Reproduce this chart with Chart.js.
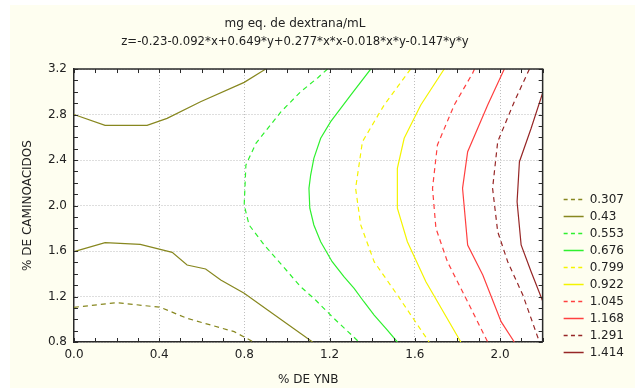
<!DOCTYPE html>
<html>
<head>
<meta charset="utf-8">
<script src="https://cdn.jsdelivr.net/npm/chart.js@4/dist/chart.umd.min.js"></script>
<style>
  html, body { margin: 0; padding: 0; background: #ffffff; }
  #bg { position: absolute; left: 10px; top: 5px; width: 625px; height: 383px; background: #fefef0; }
  #chart { position: absolute; left: 0; top: 0; }
</style>
</head>
<body>
<div id="bg"></div>
<canvas id="chart" width="635" height="388"></canvas>
<script>
// contour levels (legend labels)
const levels = ['0.307', '0.43', '0.553', '0.676', '0.799', '0.922', '1.045', '1.168', '1.291', '1.414'];

// contour lines, [% de YNB, % de caminoacidos]
const line0307 = [[0, 1.105], [0.2, 1.146], [0.406, 1.105], [0.531, 1.008], [0.752, 0.891], [0.846, 0.797]];
const line043a = [[0, 2.8], [0.146, 2.705], [0.343, 2.705], [0.437, 2.766], [0.594, 2.913], [0.799, 3.083], [0.9, 3.2]];
const line043b = [[0, 1.594], [0.146, 1.673], [0.311, 1.659], [0.461, 1.588], [0.531, 1.477], [0.618, 1.442],
                  [0.689, 1.345], [0.799, 1.228], [0.909, 1.081], [1.12, 0.8]];
const line0553 = [[1.19, 3.2], [1.145, 3.124], [1.064, 3.0], [0.972, 2.825], [0.854, 2.547], [0.807, 2.356],
                  [0.799, 2.004], [0.822, 1.829], [0.893, 1.653], [1.003, 1.418], [1.064, 1.286], [1.134, 1.169],
                  [1.22, 1.008], [1.338, 0.8]];
const line0676 = [[1.393, 3.2], [1.299, 2.971], [1.205, 2.737], [1.158, 2.591], [1.126, 2.415], [1.111, 2.268],
                  [1.103, 2.151], [1.107, 1.976], [1.126, 1.829], [1.158, 1.682], [1.212, 1.506], [1.267, 1.374],
                  [1.315, 1.272], [1.361, 1.154], [1.409, 1.037], [1.471, 0.905], [1.518, 0.8]];
const line0799 = [[1.58, 3.2], [1.565, 3.162], [1.456, 2.884], [1.354, 2.561], [1.322, 2.151], [1.346, 1.829],
                  [1.409, 1.506], [1.518, 1.213], [1.667, 0.8]];
const line0922 = [[1.738, 3.2], [1.628, 2.884], [1.55, 2.591], [1.518, 2.327], [1.518, 1.976], [1.565, 1.682],
                  [1.652, 1.33], [1.816, 0.8]];
const line1045 = [[1.88, 3.2], [1.871, 3.162], [1.785, 2.884], [1.706, 2.532], [1.683, 2.151], [1.699, 1.8],
                  [1.753, 1.506], [1.832, 1.213], [1.942, 0.8]];
const line1168 = [[2.02, 3.2], [1.942, 2.884], [1.848, 2.473], [1.824, 2.151], [1.848, 1.653], [1.919, 1.389],
                  [2.005, 0.979], [2.067, 0.8]];
const line1291 = [[2.138, 3.2], [2.067, 2.913], [1.989, 2.561], [1.965, 2.151], [1.989, 1.77], [2.036, 1.506],
                  [2.107, 1.213], [2.185, 0.8]];
const line1414 = [[2.2, 2.99], [2.146, 2.679], [2.091, 2.385], [2.08, 2.033], [2.099, 1.653], [2.146, 1.418], [2.2, 1.16]];

const xMin = 0, xMax = 2.2, yMin = 0.8, yMax = 3.2;

const OLIVE = '#87871f', GREEN = '#2ef02e', YELLOW = '#f4f400', RED = '#ff4040', DARKRED = '#962626';
const DASH = [5, 4];
const LEGEND_DASH = [4, 3.3];
const INK = '#2a2a2a';

function contour(label, pts, color, dashed, inLegend = true) {
    return {
        label: label,
        data: pts.map(p => ({ x: p[0], y: p[1] })),
        showLine: true,
        borderColor: color,
        backgroundColor: color,
        borderWidth: 1.2,
        borderDash: dashed ? DASH : [],
        pointRadius: 0,
        pointHoverRadius: 0,
        tension: 0,
        fill: false,
        inLegend: inLegend
    };
}

const isMajor = v => Math.abs(v / 0.4 - Math.round(v / 0.4)) < 1e-6;

Chart.defaults.font.family = "'DejaVu Sans', sans-serif";
Chart.defaults.font.size = 12;
Chart.defaults.color = '#222';

const plotBackground = {
    id: 'plotBackground',
    beforeDraw(chart) {
        const { ctx, chartArea: a } = chart;
        ctx.save();
        ctx.fillStyle = '#ffffff';
        ctx.fillRect(a.left, a.top, a.right - a.left, a.bottom - a.top);
        ctx.restore();
    }
};

// top and right frame lines, and small tick marks pointing into the plot on all four sides
const frameTicks = {
    id: 'frameTicks',
    afterDraw(chart) {
        const { ctx, chartArea: a, scales } = chart;
        const len = 4;
        ctx.save();
        ctx.strokeStyle = INK;
        ctx.lineWidth = 1.5;
        ctx.beginPath();
        ctx.moveTo(a.left, a.top); ctx.lineTo(a.right, a.top); ctx.lineTo(a.right, a.bottom);
        ctx.stroke();
        ctx.lineWidth = 1;
        ctx.beginPath();
        scales.x.ticks.forEach(t => {
            const px = Math.round(scales.x.getPixelForValue(t.value)) + 0.5;
            ctx.moveTo(px, a.bottom); ctx.lineTo(px, a.bottom - len);
            ctx.moveTo(px, a.top); ctx.lineTo(px, a.top + len);
        });
        scales.y.ticks.forEach(t => {
            const py = Math.round(scales.y.getPixelForValue(t.value)) + 0.5;
            ctx.moveTo(a.left, py); ctx.lineTo(a.left + len, py);
            ctx.moveTo(a.right, py); ctx.lineTo(a.right - len, py);
        });
        ctx.stroke();
        ctx.restore();
    }
};

const tickGrid = {
    color: ctx => (ctx.tick && isMajor(ctx.tick.value)) ? '#bdbdbd' : 'rgba(0,0,0,0)',
    lineWidth: 1,
    drawTicks: false
};
const edge = { display: true, color: INK, width: 1.5, dash: [1, 2] };

new Chart(document.getElementById('chart'), {
    type: 'scatter',
    data: {
        datasets: [
            contour(levels[0], line0307, OLIVE, true),
            contour(levels[1], line043a, OLIVE, false),
            contour(levels[1], line043b, OLIVE, false, false),
            contour(levels[2], line0553, GREEN, true),
            contour(levels[3], line0676, GREEN, false),
            contour(levels[4], line0799, YELLOW, true),
            contour(levels[5], line0922, YELLOW, false),
            contour(levels[6], line1045, RED, true),
            contour(levels[7], line1168, RED, false),
            contour(levels[8], line1291, DARKRED, true),
            contour(levels[9], line1414, DARKRED, false)
        ]
    },
    options: {
        responsive: false,
        animation: false,
        devicePixelRatio: 1,
        // negative left padding moves the centre of the titles to the left, as in the original
        layout: { padding: { left: -44, right: 1, top: 0, bottom: 0 } },
        scales: {
            x: {
                type: 'linear', position: 'bottom', min: xMin, max: xMax,
                ticks: { stepSize: 0.1, autoSkip: false, maxRotation: 0, padding: 6,
                         callback: v => isMajor(v) ? v.toFixed(1) : '' },
                grid: tickGrid,
                border: edge,
                title: { display: true, text: '% DE YNB', padding: { top: 4.2, bottom: 1 } }
            },
            y: {
                type: 'linear', position: 'left', min: yMin, max: yMax,
                ticks: { stepSize: 0.1, autoSkip: false, padding: 7,
                         callback: v => isMajor(v) ? v.toFixed(1) : '' },
                grid: tickGrid,
                border: edge,
                title: { display: true, text: '% DE CAMINOACIDOS', padding: { top: 64.3, bottom: 6.2 } }
            },
            // hidden axis, only keeps a gap between the plot and the legend
            y2: {
                type: 'linear', position: 'right', display: false, min: yMin, max: yMax,
                afterFit: s => { s.width = 16; }
            }
        },
        plugins: {
            title: {
                display: true,
                text: 'mg eq. de dextrana/mL',
                font: { size: 12, weight: 'normal' },
                color: '#222',
                padding: { top: 17, bottom: 2 }
            },
            subtitle: {
                display: true,
                text: 'z=-0.23-0.092*x+0.649*y+0.277*x*x-0.018*x*y-0.147*y*y',
                font: { size: 11.7, weight: 'normal' },
                color: '#222',
                padding: { top: 1.6, bottom: 20 }
            },
            legend: {
                position: 'right',
                align: 'start',
                title: { display: true, text: ' ', padding: { top: 174, bottom: 0 } },
                labels: {
                    usePointStyle: true,
                    pointStyle: 'line',
                    pointStyleWidth: 20,
                    padding: 5,
                    color: '#222',
                    font: { size: 12 },
                    generateLabels: chart => Chart.defaults.plugins.legend.labels.generateLabels(chart).map(item => {
                        const ds = chart.data.datasets[item.datasetIndex];
                        item.strokeStyle = ds.borderColor;
                        item.lineWidth = 1.5;
                        item.lineDash = ds.borderDash.length ? LEGEND_DASH : [];
                        return item;
                    }),
                    filter: (item, data) => data.datasets[item.datasetIndex].inLegend !== false
                }
            },
            tooltip: { enabled: false }
        }
    },
    plugins: [plotBackground, frameTicks]
});
</script>
</body>
</html>
